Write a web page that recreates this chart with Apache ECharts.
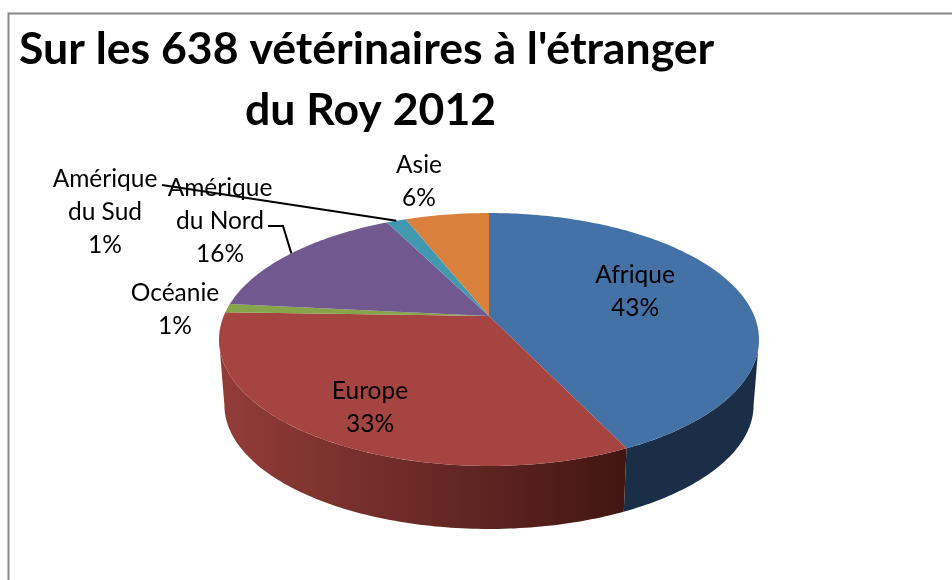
<!DOCTYPE html>
<html>
<head>
<meta charset="utf-8">
<title>Vétérinaires à l'étranger</title>
<script src="https://cdn.jsdelivr.net/npm/echarts@6/dist/echarts.min.js"></script>
<style>
  html, body { margin: 0; padding: 0; background: #fff; }
  #chart { width: 952px; height: 580px; }
</style>
</head>
<body>
<div id="chart"></div>
<script>
// clockwise from the top
var categories = ['Afrique', 'Europe', 'Océanie', 'Amérique\ndu Nord', 'Amérique\ndu Sud', 'Asie']
var shares = [42.9, 32.6, 1.1, 16, 1.4, 6]
var colors = ['#4471a6', '#a64441', '#86a44a', '#71588f', '#4198af', '#d9803c']
var titleLines = ["Sur les 638 vétérinaires à l'étranger", 'du Roy 2012']

// pie projection, the apex sits above the centre of the outline
var apexX = 489
var apexY = 316
var scaleX = 265.3
var scaleY = 122.1
var persp = 0.1858
var depth = 66
var bottomScale = 0.98
var fontName = 'Lato'

var labelPos = [[635, 292], [370, 408], [175, 310], [220, 221], [105, 212], [419, 182]]
var leaderFrom = {3: [[268, 226], [283, 226]], 4: [[162, 185]]}
var sideStyle = {
  0: '#1a2e47',
  1: {
    type: 'linear', global: true, x: 225, y: 0, x2: 622, y2: 0,
    colorStops: [{offset: 0, color: '#923c38'}, {offset: 1, color: '#421713'}]
  }
}

var total = shares.reduce(function (a, b) { return a + b }, 0)

function project(angle, ring) {
  var u = Math.sin(angle)
  var v = Math.cos(angle)
  var d = 1 + persp * v
  if (ring) {
    return [apexX + bottomScale * scaleX * u / d, apexY - bottomScale * scaleY * v / d + depth]
  }
  return [apexX + scaleX * u / d, apexY - scaleY * v / d]
}

function arc(from, to, ring) {
  var pts = []
  var steps = Math.max(2, Math.ceil(Math.abs(to - from) * 60))
  for (var i = 0; i <= steps; i++) {
    pts.push(project(from + (to - from) * i / steps, ring))
  }
  return pts
}

function renderSlice(params, api) {
  var idx = params.dataIndex
  var before = shares.slice(0, idx).reduce(function (a, b) { return a + b }, 0)
  var start = before / total * Math.PI * 2
  var end = (before + api.value(0)) / total * Math.PI * 2
  var children = []

  // only the front of the rim can be seen
  var frontFrom = Math.acos(-persp)
  var frontTo = Math.PI * 2 - frontFrom
  var a = Math.max(start, frontFrom)
  var b = Math.min(end, frontTo)
  if (b > a) {
    children.push({
      type: 'polygon',
      z2: 1,
      shape: {points: arc(a, b, false).concat(arc(a, b, true).reverse())},
      style: {fill: sideStyle[idx] || colors[idx]}
    })
  }

  children.push({
    type: 'polygon',
    z2: 2,
    shape: {points: [[apexX, apexY]].concat(arc(start, end, false))},
    style: {fill: colors[idx]}
  })

  if (leaderFrom[idx]) {
    children.push({
      type: 'polyline',
      z2: 3,
      shape: {points: leaderFrom[idx].concat([project((start + end) / 2, false)])},
      style: {fill: null, stroke: '#000', lineWidth: 2}
    })
  }

  children.push({
    type: 'text',
    z2: 4,
    style: {
      text: categories[idx] + '\n' + Math.round(api.value(0)) + '%',
      x: labelPos[idx][0],
      y: labelPos[idx][1],
      align: 'center',
      verticalAlign: 'middle',
      fontFamily: fontName,
      fontSize: 24.5,
      lineHeight: 33,
      fill: '#000'
    }
  })

  return {type: 'group', children: children}
}

var chart = echarts.init(document.getElementById('chart'))
chart.setOption({
  animation: false,
  backgroundColor: '#fff',
  title: [
    {text: titleLines[0], left: 14, top: 22, textStyle: {fontFamily: fontName, fontSize: 44.6, fontWeight: 'bold', color: '#000'}},
    {text: titleLines[1], left: 240, top: 83, textStyle: {fontFamily: fontName, fontSize: 44.6, fontWeight: 'bold', color: '#000'}}
  ],
  graphic: [{
    type: 'rect',
    silent: true,
    shape: {x: 8.5, y: 13.5, width: 1000, height: 1000},
    style: {fill: null, stroke: '#888', lineWidth: 2}
  }],
  series: [{
    type: 'custom',
    coordinateSystem: 'none',
    silent: true,
    renderItem: renderSlice,
    data: shares.map(function (v) { return [v] })
  }]
})
</script>
</body>
</html>
